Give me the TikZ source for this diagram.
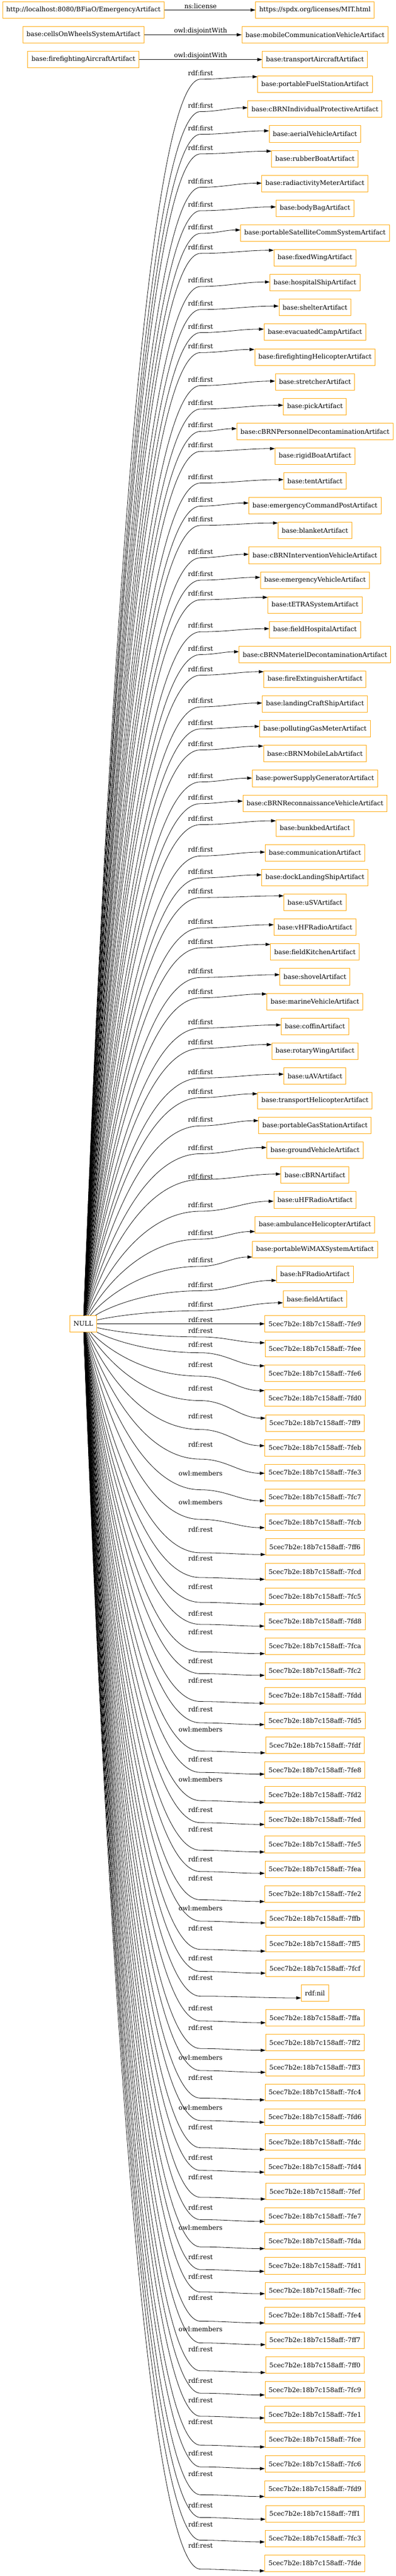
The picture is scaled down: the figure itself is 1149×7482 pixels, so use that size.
\documentclass[tikz,border=0pt]{standalone}
\usepackage{fontspec}
\setmainfont{DejaVu Serif}
\usetikzlibrary{arrows.meta}
\definecolor{gvorange}{HTML}{FFA500}
\tikzstyle{box}=[draw=gvorange, line width=1pt, minimum height=36pt, inner xsep=7.92pt, inner ysep=0pt, font=\fontsize{14}{17}\selectfont]
\tikzstyle{lbl}=[inner sep=0pt, font=\fontsize{14}{17}\selectfont]
\tikzstyle{link}=[line width=0.9pt, -{Triangle[length=10.5pt,width=7pt]}]

\begin{document}
\begin{tikzpicture}[x=0.75pt,y=-0.75pt]
\def \lx {582}
\def \rx {914}
\def \ny {3845}
\path[use as bounding box, fill=white] (0,0) rectangle (1149,7482);
\node[box] (lic) at (242,29) {http://localhost:8080/BFiaO/EmergencyArtifact};
\node[box] (mit) at (\rx,29) {https://spdx.org/licenses/MIT.html};
\node[box] (cow) at (242,101) {base:cellsOnWheelsSystemArtifact};
\node[box] (mcv) at (\rx,101) {base:mobileCommunicationVehicleArtifact};
\node[box] (ffa) at (242,173) {base:firefightingAircraftArtifact};
\node[box] (tra) at (\rx,173) {base:transportAircraftArtifact};
\node[box] (null) at (242,\ny) {NULL};
\draw[link] (lic) -- (mit);
\draw[link] (cow) -- (mcv);
\draw[link] (ffa) -- (tra);
\node[lbl] (llic) at (\lx,18) {ns:license};
\node[lbl] (lcow) at (\lx,90) {owl:disjointWith};
\node[lbl] (lffa) at (\lx,162) {owl:disjointWith};
\foreach \row/\txt/\lab/\lo/\wo/\dy in {
3/base:portableFuelStationArtifact/rdf:first/-33/-15/-22,
4/base:cBRNIndividualProtectiveArtifact/rdf:first/-11/7/-4,
5/base:aerialVehicleArtifact/rdf:first/-17/1/-9,
6/base:rubberBoatArtifact/rdf:first/-32/-14/-22,
7/base:radiactivityMeterArtifact/rdf:first/-7/11/-1,
8/base:bodyBagArtifact/rdf:first/-11/7/-4,
9/base:portableSatelliteCommSystemArtifact/rdf:first/-17/1/-9,
10/base:fixedWingArtifact/rdf:first/-31/-13/-22,
11/base:hospitalShipArtifact/rdf:first/-7/11/-2,
12/base:shelterArtifact/rdf:first/-12/6/-4,
13/base:evacuatedCampArtifact/rdf:first/-17/1/-9,
14/base:firefightingHelicopterArtifact/rdf:first/-31/-13/-22,
15/base:stretcherArtifact/rdf:first/-7/11/-2,
16/base:pickArtifact/rdf:first/-11/7/-4,
17/base:cBRNPersonnelDecontaminationArtifact/rdf:first/-18/0/-8,
18/base:rigidBoatArtifact/rdf:first/-32/-14/-22,
19/base:tentArtifact/rdf:first/-12/6/-4,
20/base:emergencyCommandPostArtifact/rdf:first/-17/1/-8,
21/base:blanketArtifact/rdf:first/-33/-15/-22,
22/base:cBRNInterventionVehicleArtifact/rdf:first/-11/7/-3,
23/base:emergencyVehicleArtifact/rdf:first/-18/0/-8,
24/base:tETRASystemArtifact/rdf:first/-33/-15/-22,
25/base:fieldHospitalArtifact/rdf:first/-12/6/-3,
26/base:cBRNMaterielDecontaminationArtifact/rdf:first/-18/0/-8,
27/base:fireExtinguisherArtifact/rdf:first/-30/-12/-22,
28/base:landingCraftShipArtifact/rdf:first/-10/8/-3,
29/base:pollutingGasMeterArtifact/rdf:first/-18/0/-7,
30/base:cBRNMobileLabArtifact/rdf:first/-29/-11/-22,
31/base:powerSupplyGeneratorArtifact/rdf:first/-8/10/-1,
32/base:cBRNReconnaissanceVehicleArtifact/rdf:first/-17/1/-6,
33/base:bunkbedArtifact/rdf:first/-28/-10/-21,
34/base:communicationArtifact/rdf:first/-9/9/-2,
35/base:dockLandingShipArtifact/rdf:first/-17/1/-8,
36/base:uSVArtifact/rdf:first/-32/-14/-19,
37/base:vHFRadioArtifact/rdf:first/-16/2/-7,
38/base:fieldKitchenArtifact/rdf:first/-30/-12/-22,
39/base:shovelArtifact/rdf:first/-16/2/-6,
40/base:marineVehicleArtifact/rdf:first/-29/-11/-22,
41/base:coffinArtifact/rdf:first/-13/5/-4,
42/base:rotaryWingArtifact/rdf:first/-26/-8/-19,
43/base:uAVArtifact/rdf:first/-12/6/-5,
44/base:transportHelicopterArtifact/rdf:first/-27/-9/-20,
45/base:portableGasStationArtifact/rdf:first/-17/1/-14,
46/base:groundVehicleArtifact/rdf:first/-8/10/-8,
47/base:cBRNArtifact/rdf:first/4/13/-3,
48/base:uHFRadioArtifact/rdf:first/15/33/4,
49/base:ambulanceHelicopterArtifact/rdf:first/24/42/20,
50/base:portableWiMAXSystemArtifact/rdf:first/31/49/22,
51/base:hFRadioArtifact/rdf:first/30/48/18,
52/base:fieldArtifact/rdf:first/16/34/11,
53/5cec7b2e:18b7c158aff:-7fe9/rdf:rest/-11/0/0,
54/5cec7b2e:18b7c158aff:-7fee/rdf:rest/-52/-34/-17,
55/5cec7b2e:18b7c158aff:-7fe6/rdf:rest/-84/-60/-22,
56/5cec7b2e:18b7c158aff:-7fd0/rdf:rest/-97/-64/-22,
57/5cec7b2e:18b7c158aff:-7ff9/rdf:rest/-100/-65/-14,
58/5cec7b2e:18b7c158aff:-7feb/rdf:rest/-91/-53/-6,
59/5cec7b2e:18b7c158aff:-7fe3/rdf:rest/-81/-39/2,
60/5cec7b2e:18b7c158aff:-7fc7/owl:members/-70/-22/10,
61/5cec7b2e:18b7c158aff:-7fcb/owl:members/-58/-8/16,
62/5cec7b2e:18b7c158aff:-7ff6/rdf:rest/-51/17/22,
63/5cec7b2e:18b7c158aff:-7fcd/rdf:rest/-38/17/22,
64/5cec7b2e:18b7c158aff:-7fc5/rdf:rest/-29/17/22,
65/5cec7b2e:18b7c158aff:-7fd8/rdf:rest/-23/9/14,
66/5cec7b2e:18b7c158aff:-7fca/rdf:rest/-40/17/22,
67/5cec7b2e:18b7c158aff:-7fc2/rdf:rest/-29/8/13,
68/5cec7b2e:18b7c158aff:-7fdd/rdf:rest/-44/17/22,
69/5cec7b2e:18b7c158aff:-7fd5/rdf:rest/-32/7/12,
70/5cec7b2e:18b7c158aff:-7fdf/owl:members/-46/17/22,
71/5cec7b2e:18b7c158aff:-7fe8/rdf:rest/-31/7/12,
72/5cec7b2e:18b7c158aff:-7fd2/owl:members/-44/17/22,
73/5cec7b2e:18b7c158aff:-7fed/rdf:rest/-29/9/14,
74/5cec7b2e:18b7c158aff:-7fe5/rdf:rest/-44/17/22,
75/5cec7b2e:18b7c158aff:-7fea/rdf:rest/-29/7/12,
76/5cec7b2e:18b7c158aff:-7fe2/rdf:rest/-45/17/22,
77/5cec7b2e:18b7c158aff:-7ffb/owl:members/-30/7/12,
78/5cec7b2e:18b7c158aff:-7ff5/rdf:rest/-45/17/22,
79/5cec7b2e:18b7c158aff:-7fcf/rdf:rest/-30/9/14,
80/rdf:nil/rdf:rest/-45/9/14,
81/5cec7b2e:18b7c158aff:-7ffa/rdf:rest/-29/9/14,
82/5cec7b2e:18b7c158aff:-7ff2/rdf:rest/-44/17/22,
83/5cec7b2e:18b7c158aff:-7ff3/owl:members/-28/9/14,
84/5cec7b2e:18b7c158aff:-7fc4/rdf:rest/-43/17/22,
85/5cec7b2e:18b7c158aff:-7fd6/owl:members/-27/10/15,
86/5cec7b2e:18b7c158aff:-7fdc/rdf:rest/-42/17/22,
87/5cec7b2e:18b7c158aff:-7fd4/rdf:rest/-27/11/16,
88/5cec7b2e:18b7c158aff:-7fef/rdf:rest/-42/17/22,
89/5cec7b2e:18b7c158aff:-7fe7/rdf:rest/-25/10/15,
90/5cec7b2e:18b7c158aff:-7fda/owl:members/-39/17/22,
91/5cec7b2e:18b7c158aff:-7fd1/rdf:rest/-25/11/16,
92/5cec7b2e:18b7c158aff:-7fec/rdf:rest/-41/4/9,
93/5cec7b2e:18b7c158aff:-7fe4/rdf:rest/-52/17/22,
94/5cec7b2e:18b7c158aff:-7ff7/owl:members/-32/8/13,
95/5cec7b2e:18b7c158aff:-7ff0/rdf:rest/-45/17/22,
96/5cec7b2e:18b7c158aff:-7fc9/rdf:rest/-26/10/15,
97/5cec7b2e:18b7c158aff:-7fe1/rdf:rest/-41/5/10,
98/5cec7b2e:18b7c158aff:-7fce/rdf:rest/-51/17/22,
99/5cec7b2e:18b7c158aff:-7fc6/rdf:rest/-31/8/13,
100/5cec7b2e:18b7c158aff:-7fd9/rdf:rest/-44/17/22,
101/5cec7b2e:18b7c158aff:-7ff1/rdf:rest/-25/11/16,
102/5cec7b2e:18b7c158aff:-7fc3/rdf:rest/-41/5/10,
103/5cec7b2e:18b7c158aff:-7fde/rdf:rest/-51/17/22} {
  \pgfmathsetmacro\ty{29+72*\row}
  \pgfmathsetmacro\ly{\ty+\lo}
  \pgfmathsetmacro\wy{\ty+\wo}
  \pgfmathsetmacro\sh{-0.75*\dy}
  \node[box] (r\row) at (\rx,\ty) {\txt};
  \node[lbl] (l\row) at (\lx,\ly) {\lab};
  \draw[link] (null) .. controls (290,{\ny+0.35*(\wy-\ny)}) and (402,\wy) .. (\lx,\wy) to[out=0,in=180] ([yshift=\sh pt]r\row.west);
}
\end{tikzpicture}
\end{document}
